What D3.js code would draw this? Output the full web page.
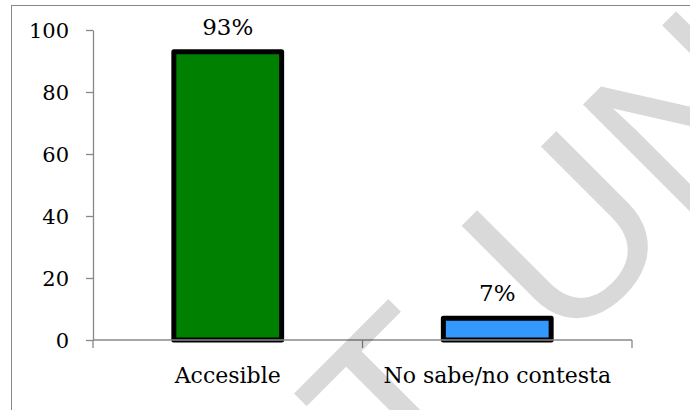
<!DOCTYPE html>
<html>
<head>
<meta charset="utf-8">
<script src="https://cdn.jsdelivr.net/npm/d3@7"></script>
<style>
  html, body { margin: 0; padding: 0; background: #fff; }
  svg { display: block; }
</style>
</head>
<body>
<svg id="chart" width="690" height="410"></svg>
<script>
// Survey answers and their shares (percent)
const categories = ["Accesible", "No sabe/no contesta"];
const values = [93, 7];
const valueLabels = ["93%", "7%"];
const barColors = ["#008000", "#3399ff"];
const yTicks = [0, 20, 40, 60, 80, 100];

const svg = d3.select("#chart");
const axisColor = "#888888";
const serif = "'DejaVu Serif', serif";

// Chart frame
svg.append("rect")
  .attr("x", 11.5).attr("y", 5.5)
  .attr("width", 720).attr("height", 440)
  .attr("fill", "#fff")
  .attr("stroke", axisColor).attr("stroke-width", 1);

const plotLeft = 93, plotRight = 632, plotTop = 30, plotBottom = 340;

const y = d3.scaleLinear().domain([0, 100]).range([plotBottom, plotTop]);

// Category slots (for axis ticks) and bars inside them
const xCat = d3.scaleBand().domain(categories).range([plotLeft, plotRight]).padding(0);
const xBar = d3.scaleBand().domain(categories).range([plotLeft, plotRight])
  .paddingInner(0.6).paddingOuter(0.3);

// Bars
svg.append("g").selectAll("rect")
  .data(categories)
  .join("rect")
  .attr("x", d => xBar(d))
  .attr("width", xBar.bandwidth())
  .attr("y", (d, i) => y(values[i]))
  .attr("height", (d, i) => y(0) - y(values[i]))
  .attr("fill", (d, i) => barColors[i])
  .attr("stroke", "#000")
  .attr("stroke-width", 5)
  .attr("stroke-linejoin", "round");

// Value labels above bars
svg.append("g").selectAll("text")
  .data(categories)
  .join("text")
  .attr("x", d => xBar(d) + xBar.bandwidth() / 2)
  .attr("y", (d, i) => y(values[i]) - 17)
  .attr("text-anchor", "middle")
  .attr("font-family", serif)
  .attr("font-size", 23)
  .attr("fill", "#000")
  .text((d, i) => valueLabels[i]);

// Y axis
const yAxis = svg.append("g")
  .attr("transform", `translate(${plotLeft},0)`)
  .call(d3.axisLeft(y).tickValues(yTicks).tickSize(7).tickSizeOuter(0).tickPadding(17));
yAxis.select(".domain").attr("stroke", axisColor).attr("stroke-width", 1.3);
yAxis.selectAll(".tick line").attr("stroke", axisColor).attr("stroke-width", 1.3);
yAxis.selectAll(".tick text")
  .attr("font-family", serif).attr("font-size", 21).attr("fill", "#000")
  .attr("dy", "0.36em");

// X axis line with tick marks at the category boundaries
const xAxis = svg.append("g");
xAxis.append("line")
  .attr("x1", plotLeft).attr("x2", plotRight)
  .attr("y1", y(0)).attr("y2", y(0))
  .attr("stroke", axisColor).attr("stroke-width", 1.3);
const boundaries = categories.map(d => xCat(d)).concat([xCat(categories[categories.length - 1]) + xCat.bandwidth()]);
xAxis.selectAll("line.tick")
  .data(boundaries)
  .join("line")
  .attr("class", "tick")
  .attr("x1", d => d).attr("x2", d => d)
  .attr("y1", y(0)).attr("y2", y(0) + 8)
  .attr("stroke", axisColor).attr("stroke-width", 1.3);
xAxis.selectAll("text")
  .data(categories)
  .join("text")
  .attr("x", d => xCat(d) + xCat.bandwidth() / 2)
  .attr("y", 383)
  .attr("text-anchor", "middle")
  .attr("font-family", serif)
  .attr("font-size", 22)
  .attr("fill", "#000")
  .text(d => d);

// Diagonal watermark lettering across the chart
const mark = svg.append("text")
  .attr("transform", "translate(405,512) rotate(-45)")
  .attr("font-family", "'Liberation Sans', Arial, sans-serif")
  .attr("font-size", 236)
  .attr("fill", "#000")
  .attr("fill-opacity", 0.15);
mark.append("tspan").text("T");
mark.append("tspan").attr("dx", 80).text("UN");
</script>
</body>
</html>
